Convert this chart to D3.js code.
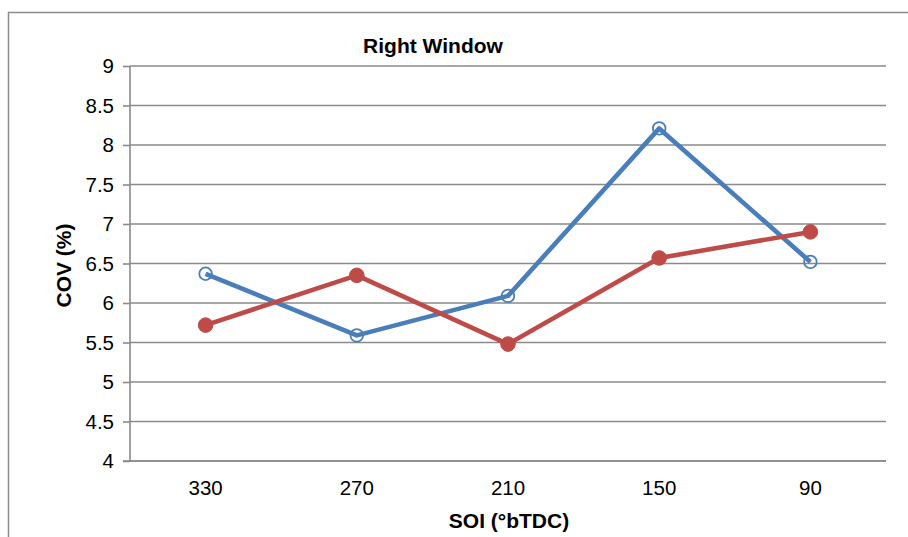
<!DOCTYPE html>
<html>
<head>
<meta charset="utf-8">
<script src="https://cdn.jsdelivr.net/npm/d3@7"></script>
<style>
  html, body { margin: 0; padding: 0; background: #fff; }
  svg { display: block; font-family: "Liberation Sans", Arial, sans-serif; }
</style>
</head>
<body>
<svg id="chart" width="908" height="537"></svg>
<script>
// Crank angle of start of injection (°bTDC)
const categories = ["330", "270", "210", "150", "90"];
// Cycle-to-cycle COV of IMEP (%), two test series
const seriesBlue = [6.37, 5.59, 6.09, 8.21, 6.52];
const seriesRed  = [5.72, 6.35, 5.48, 6.57, 6.90];
const yTicks = [4, 4.5, 5, 5.5, 6, 6.5, 7, 7.5, 8, 8.5, 9];

const svg = d3.select("#chart");
const plot = { left: 130, right: 886, top: 66, bottom: 461 };
const axisGrey = "#8a8a8a";

// Outer chart frame (left and top edges visible, rest runs off the canvas)
svg.append("rect")
  .attr("x", 8.5).attr("y", 12.5)
  .attr("width", 1000).attr("height", 1000)
  .attr("fill", "none").attr("stroke", "#8c8c8c").attr("stroke-width", 1.5);

const x = d3.scaleBand().domain(categories).range([plot.left, plot.right]).padding(0);
const y = d3.scaleLinear().domain([4, 9]).range([plot.bottom, plot.top]);

// Horizontal gridlines
svg.append("g").selectAll("line").data(yTicks).join("line")
  .attr("x1", plot.left).attr("x2", plot.right)
  .attr("y1", d => y(d)).attr("y2", d => y(d))
  .attr("stroke", axisGrey).attr("stroke-width", 1.6);

// Y axis
const yAxis = d3.axisLeft(y).tickValues(yTicks).tickSize(7).tickPadding(9)
  .tickFormat(d => String(d));
const gy = svg.append("g").attr("transform", `translate(${plot.left},0)`).call(yAxis);
gy.select(".domain").attr("stroke", axisGrey).attr("stroke-width", 1.6)
  .attr("d", `M0,${plot.top}V${plot.bottom}`);
gy.selectAll(".tick line").attr("stroke", axisGrey).attr("stroke-width", 1.6);
gy.selectAll(".tick text").attr("fill", "#000").attr("font-size", 20.5)
  .attr("font-family", "Liberation Sans, Arial, sans-serif");

// X axis
const xAxis = d3.axisBottom(x).tickSize(0).tickPadding(19);
const gx = svg.append("g").attr("transform", `translate(0,${plot.bottom})`).call(xAxis);
gx.select(".domain").attr("stroke", axisGrey).attr("stroke-width", 1.6)
  .attr("d", `M${plot.left - 7},0H${plot.right}`);
gx.selectAll(".tick text").attr("fill", "#000").attr("font-size", 20.5)
  .attr("font-family", "Liberation Sans, Arial, sans-serif");

const cx = d => x(d) + x.bandwidth() / 2;
const line = d3.line().x(d => cx(d.c)).y(d => y(d.v));

const blue = "#4a7ebb", red = "#be4b48";
const blueData = categories.map((c, i) => ({ c, v: seriesBlue[i] }));
const redData = categories.map((c, i) => ({ c, v: seriesRed[i] }));

svg.append("path").datum(blueData).attr("d", line)
  .attr("fill", "none").attr("stroke", blue).attr("stroke-width", 4.6)
  .attr("stroke-linejoin", "round");
svg.append("path").datum(redData).attr("d", line)
  .attr("fill", "none").attr("stroke", red).attr("stroke-width", 4.6)
  .attr("stroke-linejoin", "round");

// Blue markers: open circles
svg.append("g").selectAll("circle").data(blueData).join("circle")
  .attr("cx", d => cx(d.c)).attr("cy", d => y(d.v)).attr("r", 6.3)
  .attr("fill", "none").attr("stroke", blue).attr("stroke-width", 1.8);
// Red markers: filled circles
svg.append("g").selectAll("circle").data(redData).join("circle")
  .attr("cx", d => cx(d.c)).attr("cy", d => y(d.v)).attr("r", 7.3)
  .attr("fill", red).attr("stroke", red).attr("stroke-width", 1);

// Titles
svg.append("text").attr("x", 433).attr("y", 53).attr("text-anchor", "middle")
  .attr("font-weight", "bold").attr("font-size", 21).text("Right Window");
svg.append("text").attr("x", 509).attr("y", 528).attr("text-anchor", "middle")
  .attr("font-weight", "bold").attr("font-size", 21).text("SOI (°bTDC)");
svg.append("text").attr("transform", `translate(71,${(plot.top + plot.bottom) / 2 + 2}) rotate(-90)`)
  .attr("text-anchor", "middle").attr("font-weight", "bold").attr("font-size", 21)
  .text("COV (%)");
</script>
</body>
</html>
